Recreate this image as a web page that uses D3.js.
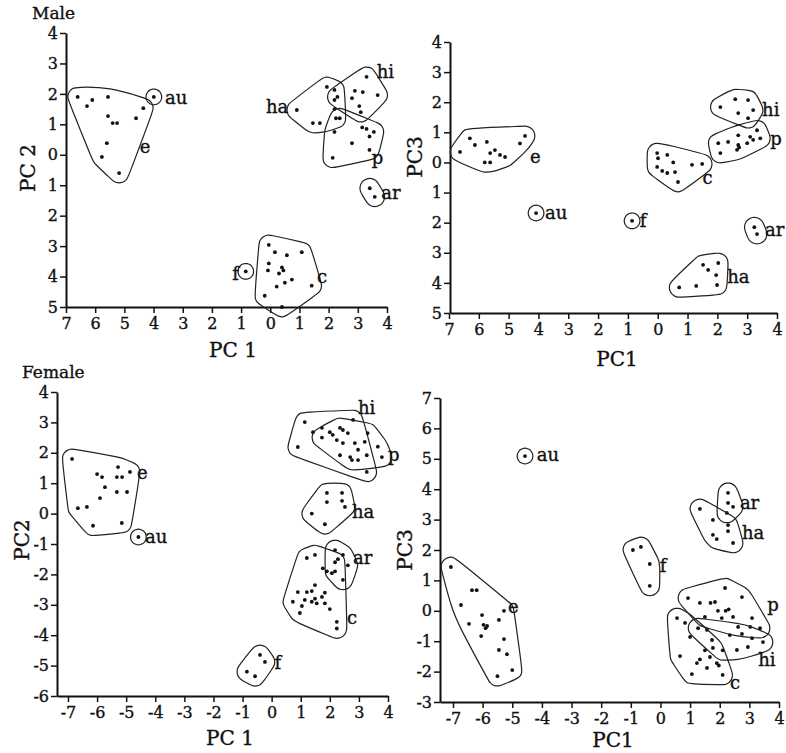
<!doctype html>
<html>
<head>
<meta charset="utf-8">
<script src="https://d3js.org/d3.v7.min.js"></script>
<style>
  body { margin: 0; background: #fff; }
  svg text { font-family: "DejaVu Serif", "Liberation Serif", serif; fill: #111; stroke: #111; stroke-width: 0.35px; }
  .tick text { font-size: 16px; }
  .axis path, .axis line { stroke: #111; }
  .axis path { stroke-width: 2; }
  .axis line { stroke-width: 1.5; }
</style>
</head>
<body>
<svg id="chart" width="786" height="753"></svg>
<script>
// tick values on every panel
const pc1Ticks = [-7, -6, -5, -4, -3, -2, -1, 0, 1, 2, 3, 4];
const malePc2Ticks = [-5, -4, -3, -2, -1, 0, 1, 2, 3, 4];
const malePc3Ticks = [-5, -4, -3, -2, -1, 0, 1, 2, 3, 4];
const femalePc2Ticks = [-6, -5, -4, -3, -2, -1, 0, 1, 2, 3, 4];
const femalePc3Ticks = [-3, -2, -1, 0, 1, 2, 3, 4, 5, 6, 7];

// Male, PC1 x PC2  (cluster -> [pc1, pc2])
const maleA = {
  e: [[-6.6,1.9],[-6.28,1.6],[-6.1,1.8],[-5.56,1.9],[-5.56,1.27],[-5.4,1.04],[-5.25,1.04],[-4.6,1.2],[-4.35,1.53],[-5.6,0.38],[-5.77,-0.07],[-5.18,-0.6]],
  au: [[-3.99,1.9]],
  ha: [[0.91,1.47],[1.46,1.04],[1.7,1.04],[1.94,2.23],[2.2,2.13],[2.2,1.8],[2.2,1.5],[2.25,1.2]],
  hi: [[3.3,2.56],[2.9,2.1],[3.17,2.06],[3.68,1.96],[2.8,1.86],[3.05,1.6],[3.1,1.4],[2.3,1.9]],
  p: [[2.14,-0.1],[2.8,0.38],[3.4,0.16],[2.2,0.75],[2.38,1.2],[3.4,0.6],[3.55,0.75],[3.3,0.85],[3.15,0.9]],
  ar: [[3.41,-1.1],[3.58,-1.38]],
  c: [[-0.05,-2.96],[0.16,-3.2],[0.57,-3.3],[1.08,-3.2],[-0.05,-3.57],[-0.08,-3.8],[0.4,-3.7],[0.45,-3.8],[0.3,-3.9],[0.74,-4.1],[0.5,-4.2],[0.22,-4.33],[1.42,-4.3],[-0.19,-4.63],[0.4,-5.0]],
  f: [[-0.84,-3.83]]
};
const maleALabels = [["e",-4.47,0.26],["au",-3.61,1.87],["ha",-0.15,1.57],["hi",3.65,2.72],["p",3.48,-0.1],["ar",3.8,-1.25],["c",1.6,-4.0],["f",-1.3,-3.9]];

// Male, PC1 x PC3
const maleB = {
  e: [[-6.63,0.35],[-6.3,0.8],[-6.13,0.58],[-5.73,0.68],[-5.62,0.31],[-5.46,0.41],[-5.29,0.25],[-5.12,0.18],[-5.8,0.0],[-5.62,0.0],[-4.62,0.63],[-4.45,0.88]],
  au: [[-4.08,-1.68]],
  f: [[-0.86,-1.94]],
  c: [[-0.02,0.31],[0.01,0.14],[0.32,0.25],[0.52,0.0],[-0.02,-0.15],[0.15,-0.28],[0.32,-0.35],[0.58,-0.32],[1.15,-0.08],[1.49,-0.05],[0.68,-0.65]],
  hi: [[2.1,1.84],[2.6,2.1],[3.03,2.07],[2.7,1.64],[3.03,1.47],[3.2,1.74]],
  p: [[2.03,0.64],[2.1,0.31],[2.36,0.68],[2.7,0.58],[2.73,0.5],[3.0,0.64],[3.1,0.85],[3.2,0.75],[3.33,1.07],[3.44,0.8],[2.7,0.9],[2.66,0.42]],
  ar: [[3.24,-2.15],[3.33,-2.38]],
  ha: [[0.72,-4.15],[1.29,-4.1],[1.52,-3.4],[1.69,-3.57],[2.03,-3.34],[1.96,-3.74],[1.99,-4.07]]
};
const maleBLabels = [["e",-4.28,0.18],["au",-3.78,-1.68],["f",-0.6,-1.94],["c",1.5,-0.52],["hi",3.5,1.74],["p",3.77,0.8],["ar",3.6,-2.25],["ha",2.33,-3.8]];

// Female, PC1 x PC2
const femaleA = {
  e: [[-6.86,1.8],[-6.66,0.18],[-6.35,0.22],[-6.14,-0.4],[-6.0,1.3],[-5.83,1.2],[-5.73,0.87],[-5.9,0.51],[-5.28,1.53],[-5.32,1.2],[-5.14,1.2],[-5.32,0.71],[-4.97,0.71],[-4.87,1.37],[-5.15,-0.31]],
  au: [[-4.58,-0.77]],
  hi: [[0.9,2.19],[1.14,3.01],[1.42,2.68],[2.8,3.08],[2.0,2.68],[2.24,2.42],[2.45,2.32],[2.35,1.92],[2.7,1.86],[3.27,1.37],[1.73,2.82]],
  p: [[2.1,2.59],[2.35,2.82],[2.45,2.75],[2.62,2.65],[2.86,2.32],[3.2,2.36],[3.3,2.65],[2.97,2.1],[3.27,1.92],[3.65,2.2],[3.79,1.86],[2.76,1.76],[2.97,1.76],[1.73,2.5]],
  ha: [[1.9,0.68],[1.9,0.38],[2.42,0.68],[2.42,0.42],[2.52,0.22],[1.38,0.0],[1.83,-0.35]],
  ar: [[2.18,-1.2],[2.45,-1.36],[2.28,-1.5],[2.62,-1.7],[2.45,-2.18],[2.18,-1.9]],
  c: [[1.21,-1.46],[1.49,-1.36],[0.9,-2.58],[0.73,-2.9],[1.04,-3.04],[0.97,-3.27],[1.14,-2.84],[1.21,-2.58],[1.38,-2.55],[1.49,-2.35],[1.38,-2.9],[1.55,-2.95],[1.73,-2.74],[1.83,-2.6],[1.49,-2.8],[1.76,-1.8],[1.9,-1.9],[2.07,-1.96],[1.83,-2.95],[2.0,-3.14],[2.24,-3.56],[2.24,-3.78],[2.18,-1.6]],
  f: [[-0.85,-5.2],[-0.57,-5.35],[-0.4,-4.65],[-0.23,-4.88]]
};
const femaleALabels = [["hi",2.97,3.5],["p",4.0,1.93],["ha",2.76,0.05],["ar",2.8,-1.46],["c",2.59,-3.43],["f",0.1,-4.9],["e",-4.63,1.33],["au",-4.35,-0.77]];

// Female, PC1 x PC3
const femaleB = {
  au: [[-4.57,5.09]],
  e: [[-7.07,1.44],[-6.73,0.19],[-6.36,0.68],[-6.2,0.68],[-6.46,-0.43],[-6.02,-0.14],[-5.97,-0.46],[-5.9,-0.57],[-6.05,-0.83],[-5.85,-0.5],[-5.45,-0.3],[-5.28,0.0],[-5.28,-0.93],[-5.45,-1.29],[-5.18,-1.43],[-5.0,-1.95],[-5.5,-2.15]],
  f: [[-0.93,2.0],[-0.66,2.1],[-0.36,1.54],[-0.36,0.82]],
  ar: [[2.28,3.88],[2.28,3.55],[2.45,3.42],[2.24,3.22]],
  ha: [[1.33,3.35],[1.77,2.99],[2.28,2.82],[2.28,2.62],[1.77,2.5],[1.9,2.36],[2.45,2.23]],
  p: [[0.93,0.42],[1.33,0.26],[1.69,0.26],[1.84,0.29],[2.18,0.75],[2.75,0.45],[1.94,0.0],[2.2,0.0],[2.3,0.05],[2.07,-0.24],[2.45,-0.2],[2.62,-0.53],[3.09,-0.24],[3.03,-0.53],[3.36,-0.57],[1.5,-0.2]],
  hi: [[2.34,-0.8],[2.58,-1.29],[2.95,-1.19],[1.57,-0.63],[1.74,-0.96],[1.27,-0.57],[3.46,-1.03],[3.09,-0.9],[2.75,-0.76],[2.1,-1.3]],
  c: [[0.56,-0.24],[0.83,-0.4],[1.0,-0.86],[0.66,-1.49],[1.23,-1.72],[1.33,-1.6],[1.57,-1.88],[1.67,-1.52],[1.9,-1.72],[1.06,-2.08],[2.1,-2.11],[1.97,-1.8],[1.77,-1.22],[1.5,-1.3]]
};
const femaleBLabels = [["au",-4.17,5.12],["ar",2.68,3.55],["ha",2.75,2.56],["f",-0.02,1.5],["e",-5.14,0.13],["p",3.6,0.2],["hi",3.3,-1.62],["c",2.35,-2.38]];

const svg = d3.select("#chart");

// smooth loop round a group of points, in pixels
function outline(pts, x, y, r) {
  var ring = [];
  pts.forEach(function(p) {
    var px = x(p[0]), py = y(p[1]);
    for (var k = 0; k < 18; k++) {
      var a = k / 18 * 2 * Math.PI;
      ring.push([px + r * Math.cos(a), py + r * Math.sin(a)]);
    }
  });
  return d3.line().curve(d3.curveBasisClosed)(d3.polygonHull(ring));
}

function panel(opt) {
  var x = d3.scaleLinear().domain([-7, 4]).range(opt.xr);
  var x0 = x.invert(opt.axisX);
  x.domain([x0, 4]).range([opt.axisX, opt.xr[1]]);
  var y = d3.scaleLinear().domain(opt.yd).range(opt.yr);
  var fmt = opt.abs ? function(d){ return Math.abs(d); } : function(d){ return d; };

  var g = svg.append("g");
  g.append("g").attr("class", "axis")
    .attr("transform", "translate(0," + opt.yr[0] + ")")
    .call(d3.axisBottom(x).tickValues(pc1Ticks).tickFormat(fmt).tickSize(6).tickPadding(5).tickSizeOuter(0));
  g.append("g").attr("class", "axis")
    .attr("transform", "translate(" + opt.axisX + ",0)")
    .call(d3.axisLeft(y).tickValues(opt.yTicks).tickFormat(fmt).tickSize(6).tickPadding(2).tickSizeOuter(0));
  g.selectAll(".axis .tick text").style("fill", "#111");

  Object.keys(opt.data).forEach(function(k) {
    var pts = opt.data[k];
    g.append("path")
      .attr("d", outline(pts, x, y, pts.length < 2 ? 8 : 10))
      .attr("fill", "none").attr("stroke", "#222").attr("stroke-width", 1.2);
    g.selectAll(null).data(pts).enter().append("circle")
      .attr("cx", function(d){ return x(d[0]); })
      .attr("cy", function(d){ return y(d[1]); })
      .attr("r", 1.9).attr("fill", "#111");
  });

  g.selectAll(null).data(opt.labels).enter().append("text")
    .attr("x", function(d){ return x(d[1]); })
    .attr("y", function(d){ return y(d[2]); })
    .attr("dy", "0.35em").style("font-size", "18px")
    .text(function(d){ return d[0]; });

  g.append("text").attr("x", opt.xt[0]).attr("y", opt.xt[1])
    .attr("text-anchor", "middle").style("font-size", "20px").text(opt.xTitle);
  g.append("text").attr("transform", "translate(" + opt.yt[0] + "," + opt.yt[1] + ") rotate(-90)")
    .attr("text-anchor", "middle").attr("dy", "0.35em").style("font-size", "20px").text(opt.yTitle);
  if (opt.title) {
    g.append("text").attr("x", opt.title[1]).attr("y", opt.title[2])
      .style("font-size", "17px").text(opt.title[0]);
  }
}

panel({ data: maleA, labels: maleALabels, xr: [66, 387], axisX: 66, yd: [-5, 4], yr: [307, 33],
  yTicks: malePc2Ticks, abs: true, xTitle: "PC 1", yTitle: "PC 2", xt: [233, 357], yt: [28, 168], title: ["Male", 32, 19] });
panel({ data: maleB, labels: maleBLabels, xr: [449, 777], axisX: 450, yd: [-5, 4], yr: [313, 42],
  yTicks: malePc3Ticks, abs: true, xTitle: "PC1", yTitle: "PC3", xt: [617, 366], yt: [415, 157] });
panel({ data: femaleA, labels: femaleALabels, xr: [68, 388], axisX: 57, yd: [-6, 4], yr: [696, 392],
  yTicks: femalePc2Ticks, abs: false, xTitle: "PC 1", yTitle: "PC2", xt: [230, 745], yt: [22, 540], title: ["Female", 22, 378] });
panel({ data: femaleB, labels: femaleBLabels, xr: [453, 779], axisX: 440, yd: [-3, 7], yr: [702, 398],
  yTicks: femalePc3Ticks, abs: false, xTitle: "PC1", yTitle: "PC3", xt: [613, 747], yt: [405, 550] });
</script>
</body>
</html>
